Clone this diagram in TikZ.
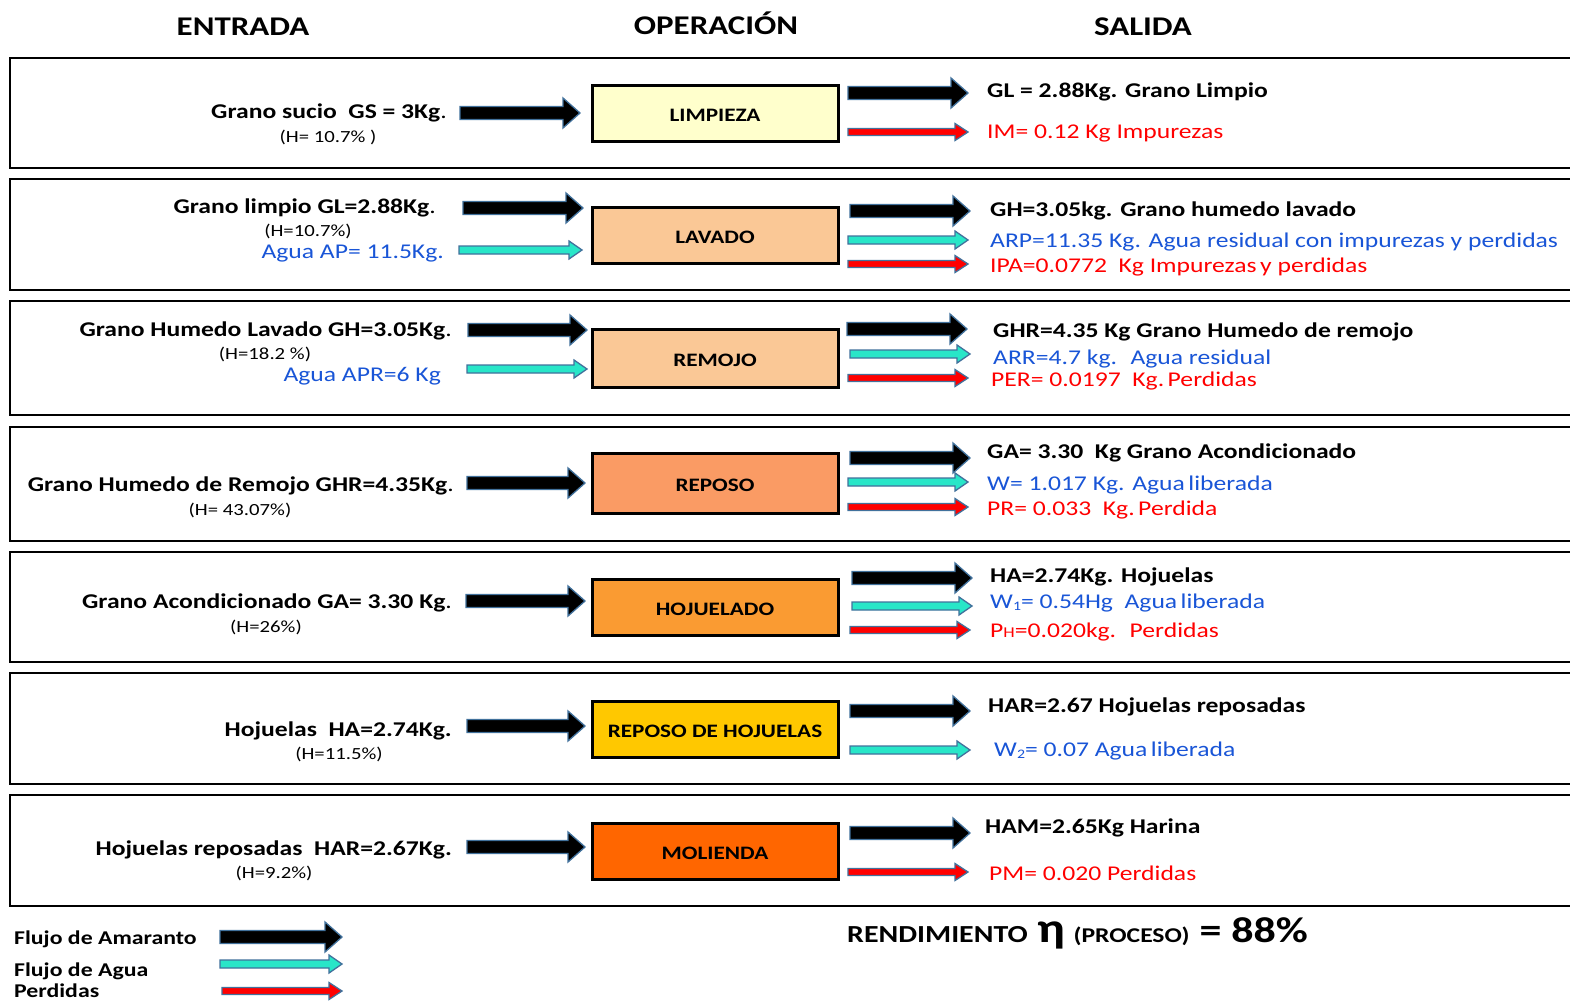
\documentclass[tikz,border=0pt]{standalone}
\usepackage{fontspec}
\setmainfont{Carlito}[FakeStretch=1.22]
\definecolor{outl}{RGB}{65,113,156}
\definecolor{aqua}{RGB}{40,230,200}
\definecolor{txtblue}{RGB}{25,85,215}
\definecolor{txtred}{RGB}{255,0,0}
\definecolor{cLimp}{RGB}{255,255,204}
\definecolor{cLav}{RGB}{250,200,150}
\definecolor{cRep}{RGB}{250,155,100}
\definecolor{cHoj}{RGB}{250,155,50}
\definecolor{cRH}{RGB}{255,200,0}
\definecolor{cMol}{RGB}{255,102,0}
\tikzset{
  frame/.style={draw=black,line width=2pt},
  opbox/.style={draw=black,line width=3pt,minimum width=246pt,minimum height=56pt,inner sep=0pt,font=\fontsize{19}{19}\selectfont\bfseries,text depth=0pt,text height=17pt},
  arrowline/.style={draw=outl,line width=1.3pt,line join=miter},
  hdr/.style={font=\fontsize{27}{27}\selectfont\bfseries,anchor=mid,yshift=-6.5pt},
  intxt/.style={font=\fontsize{21}{21}\selectfont\bfseries,anchor=mid east,inner sep=0pt,yshift=-5pt},
  hum/.style={font=\fontsize{17}{17}\selectfont,anchor=mid,inner sep=0pt,yshift=-4pt},
  inblue/.style={font=\fontsize{21}{21}\selectfont,text=txtblue,anchor=mid east,inner sep=0pt,yshift=-5pt},
  outb/.style={font=\fontsize{21}{21}\selectfont\bfseries,anchor=mid west,inner sep=0pt,yshift=-5pt},
  outblue/.style={font=\fontsize{21}{21}\selectfont,text=txtblue,anchor=mid west,inner sep=0pt,yshift=-5pt},
  outred/.style={font=\fontsize{21}{21}\selectfont,text=txtred,anchor=mid west,inner sep=0pt,yshift=-5pt},
  legtxt/.style={font=\fontsize{19.5}{19.5}\selectfont\bfseries,anchor=mid west,inner sep=0pt,yshift=-5pt}
}
% #1 fill, #2 x1, #3 x2, #4 y, #5 shaft half, #6 head half, #7 head length
\newcommand\flowarrow[7]{\draw[arrowline,fill=#1] (#2,#4-#5) -- (#3-#7,#4-#5) -- (#3-#7,#4-#6) -- (#3,#4) -- (#3-#7,#4+#6) -- (#3-#7,#4+#5) -- (#2,#4+#5) -- cycle;}
\newcommand\amarr[3]{\flowarrow{black}{#1}{#2}{#3}{6.5}{15}{17}}
\newcommand\aguaarr[3]{\flowarrow{aqua}{#1}{#2}{#3}{4}{9}{13}}
\newcommand\perdarr[3]{\flowarrow{txtred}{#1}{#2}{#3}{3.5}{8.5}{13}}
\newcommand\subsc[1]{\raisebox{-0.2ex}{\fontsize{13}{13}\selectfont #1}}
\begin{document}
\begin{tikzpicture}[x=1pt,y=-1pt]
\useasboundingbox[fill=white] (0,0) rectangle (1570,1004);
% headers
\node[hdr] (hE) at (243,27) {ENTRADA};
\node[hdr] (hO) at (716,26) {OPERACIÓN};
\node[hdr] (hS) at (1143,27) {SALIDA};
% frames
\draw[frame] (10,58) rectangle (1590,168);
\draw[frame] (10,179) rectangle (1590,290);
\draw[frame] (10,301) rectangle (1590,415);
\draw[frame] (10,427) rectangle (1590,541);
\draw[frame] (10,552) rectangle (1590,662);
\draw[frame] (10,673) rectangle (1590,784);
\draw[frame] (10,795) rectangle (1590,906);
% operation boxes
\node[opbox,fill=cLimp] (op1) at (715,113) {LIMPIEZA};
\node[opbox,fill=cLav] (op2) at (715,235) {LAVADO};
\node[opbox,fill=cLav,minimum height=58pt] (op3) at (715,358) {REMOJO};
\node[opbox,fill=cRep,minimum height=60pt] (op4) at (715,483) {REPOSO};
\node[opbox,fill=cHoj] (op5) at (715,607) {HOJUELADO};
\node[opbox,fill=cRH] (op6) at (715,729) {REPOSO DE HOJUELAS};
\node[opbox,fill=cMol] (op7) at (715,851) {MOLIENDA};
% ---- row 1
\node[intxt] (in1) at (447,111) {Grano sucio~ GS = 3Kg{\mdseries .}};
\node[hum] (h1) at (328,136) {(H= 10.7\% )};
\amarr{460}{580}{113}
\amarr{848}{968}{93}
\perdarr{848}{968}{132}
\node[outb] (o1a) at (987,90) {GL = 2.88Kg. Grano Limpio};
\node[outred] (o1b) at (987,131) {IM= 0.12 Kg Impurezas};
% ---- row 2
\node[intxt] (in2) at (436,206) {Grano limpio GL=2.88Kg{\mdseries .}};
\node[hum] (h2) at (308,230) {(H=10.7\%)};
\node[inblue] (w2) at (444,251) {Agua AP= 11.5Kg.};
\amarr{463}{583}{208}
\aguaarr{459}{582}{250}
\amarr{850}{970}{211}
\aguaarr{848}{968}{240}
\perdarr{848}{968}{264}
\node[outb] (o2a) at (990,209) {GH=3.05kg. Grano humedo lavado};
\node[outblue] (o2b) at (990,240) {ARP=11.35 Kg. Agua residual con impurezas y perdidas};
\node[outred] (o2c) at (990,265) {IPA=0.0772~ Kg Impurezas\,y perdidas};
% ---- row 3
\node[intxt] (in3) at (452,329) {Grano Humedo Lavado GH=3.05Kg{\mdseries .}};
\node[hum] (h3) at (265,353) {(H=18.2 \%)};
\node[inblue] (w3) at (441,374) {Agua APR=6 Kg};
\amarr{468}{587}{330}
\aguaarr{467}{587}{369}
\amarr{847}{967}{329}
\aguaarr{850}{970}{354}
\perdarr{848}{968}{378}
\node[outb] (o3a) at (993,330) {GHR=4.35 Kg Grano Humedo de remojo};
\node[outblue] (o3b) at (993,357) {ARR=4.7 kg.~ Agua residual};
\node[outred] (o3c) at (991,379) {PER= 0.0197~ Kg.\,Perdidas};
% ---- row 4
\node[intxt] (in4) at (454,484) {Grano Humedo de Remojo GHR=4.35Kg{\mdseries .}};
\node[hum] (h4) at (240,509) {(H= 43.07\%)};
\amarr{467}{585}{483}
\amarr{850}{970}{458}
\aguaarr{848}{968}{482}
\perdarr{848}{968}{507}
\node[outb] (o4a) at (987,451) {GA= 3.30~ Kg Grano Acondicionado};
\node[outblue] (o4b) at (987,483) {W= 1.017 Kg. Agua\,liberada};
\node[outred] (o4c) at (987,508) {PR= 0.033~ Kg.\,Perdida};
% ---- row 5
\node[intxt] (in5) at (452,601) {Grano Acondicionado GA= 3.30 Kg{\mdseries .}};
\node[hum] (h5) at (266,626) {(H=26\%)};
\amarr{466}{585}{601}
\amarr{852}{972}{578}
\aguaarr{852}{972}{606}
\perdarr{850}{970}{630}
\node[outb] (o5a) at (990,575) {HA=2.74Kg. Hojuelas};
\node[outblue] (o5b) at (990,601) {W\subsc{1}= 0.54Hg~ Agua\,liberada};
\node[outred] (o5c) at (990,630) {P{\fontsize{15}{15}\selectfont H}=0.020kg.~ Perdidas};
% ---- row 6
\node[intxt] (in6) at (452,729) {Hojuelas~ HA=2.74Kg.};
\node[hum] (h6) at (339,753) {(H=11.5\%)};
\amarr{467}{585}{726}
\amarr{850}{970}{711}
\aguaarr{850}{970}{750}
\node[outb] (o6a) at (988,705) {HAR=2.67 Hojuelas reposadas};
\node[outblue] (o6b) at (994,749) {W\subsc{2}= 0.07 Agua\,liberada};
% ---- row 7
\node[intxt] (in7) at (452,848) {Hojuelas reposadas~ HAR=2.67Kg.};
\node[hum] (h7) at (274,872) {(H=9.2\%)};
\amarr{467}{585}{847}
\amarr{850}{970}{833}
\perdarr{848}{968}{872}
\node[outb] (o7a) at (985,826) {HAM=2.65Kg Harina};
\node[outred] (o7b) at (989,873) {PM= 0.020 Perdidas};
% ---- legend
\node[legtxt] (l1) at (14,937) {Flujo de Amaranto};
\node[legtxt] (l2) at (14,969) {Flujo de Agua};
\node[legtxt] (l3) at (14,990) {Perdidas};
\amarr{220}{342}{937}
\aguaarr{220}{342}{964}
\perdarr{222}{342}{991}
% ---- rendimiento
\node[anchor=mid west,inner sep=0pt,font=\bfseries,yshift=-7pt] (rend) at (847,933)
  {\fontsize{24.5}{24.5}\selectfont RENDIMIENTO\hspace{10pt}{\fontsize{42}{42}\selectfont η}\hspace{8pt}\fontsize{21}{21}\selectfont (PROCESO)\hspace{10pt}\fontsize{36}{36}\selectfont =\hspace{10pt}88\%};
\end{tikzpicture}
\end{document}
